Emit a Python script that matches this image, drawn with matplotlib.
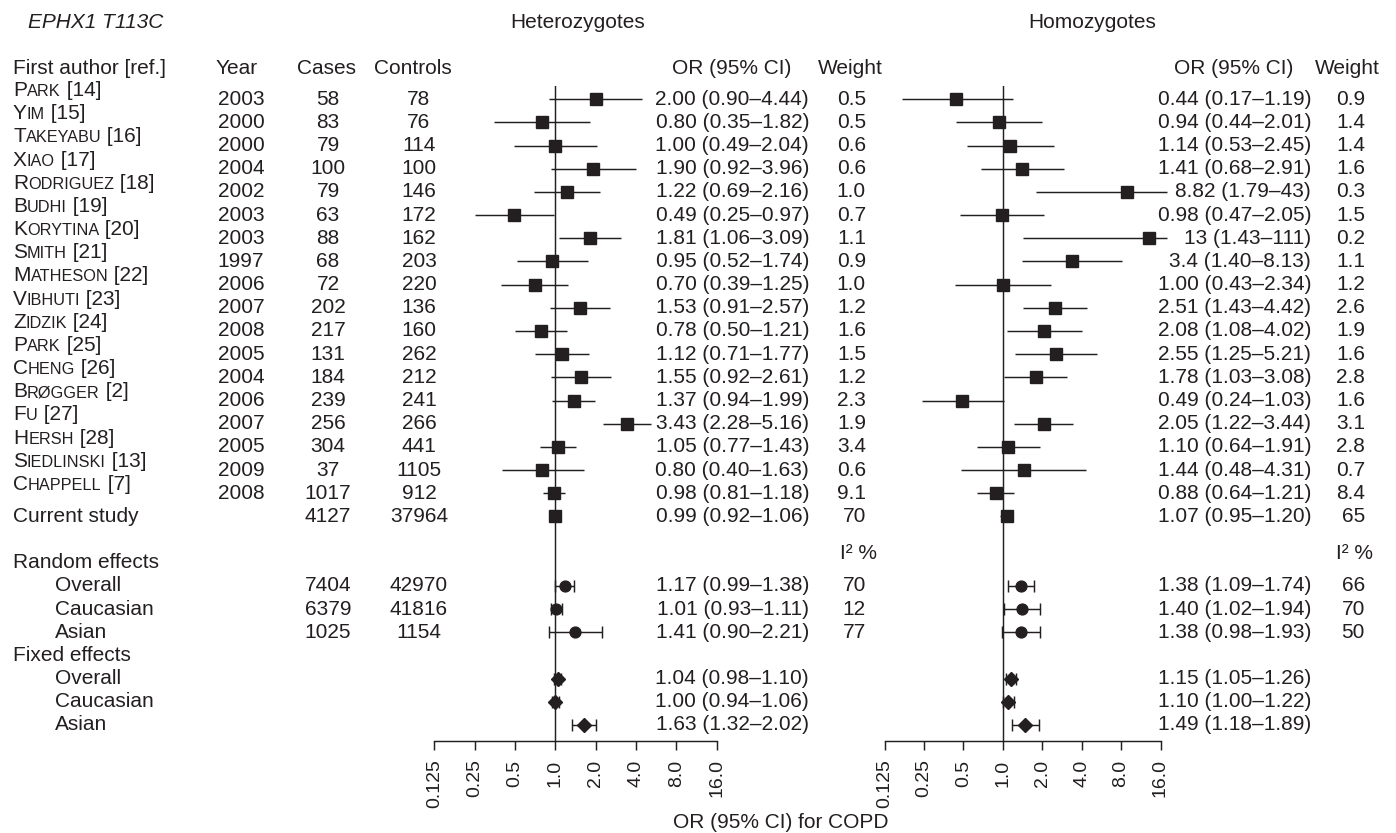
import numpy as np
import matplotlib
matplotlib.use("Agg")
import matplotlib.pyplot as plt
from matplotlib.transforms import blended_transform_factory
from matplotlib.offsetbox import TextArea, HPacker, AnnotationBbox

plt.rcParams['font.family'] = ['Liberation Sans', 'DejaVu Sans']
INK = '#231f20'
FS = 15
LW = 1.05

# ---------------- data ----------------
authors = ["Park", "Yim", "Takeyabu", "Xiao", "Rodriguez", "Budhi", "Korytina", "Smith",
           "Matheson", "Vibhuti", "Zidzik", "Park", "Cheng", "Brøgger", "Fu", "Hersh",
           "Siedlinski", "Chappell"]
refs = ["[14]", "[15]", "[16]", "[17]", "[18]", "[19]", "[20]", "[21]", "[22]", "[23]",
        "[24]", "[25]", "[26]", "[2]", "[27]", "[28]", "[13]", "[7]"]
years = [2003, 2000, 2000, 2004, 2002, 2003, 2003, 1997, 2006, 2007, 2008, 2005, 2004,
         2006, 2007, 2005, 2009, 2008]
cases = [58, 83, 79, 100, 79, 63, 88, 68, 72, 202, 217, 131, 184, 239, 256, 304, 37, 1017, 4127]
controls = [78, 76, 114, 100, 146, 172, 162, 203, 220, 136, 160, 262, 212, 241, 266, 441,
            1105, 912, 37964]

# Heterozygotes (studies + current study)
het_or = ["2.00", "0.80", "1.00", "1.90", "1.22", "0.49", "1.81", "0.95", "0.70", "1.53",
          "0.78", "1.12", "1.55", "1.37", "3.43", "1.05", "0.80", "0.98", "0.99"]
het_lo = ["0.90", "0.35", "0.49", "0.92", "0.69", "0.25", "1.06", "0.52", "0.39", "0.91",
          "0.50", "0.71", "0.92", "0.94", "2.28", "0.77", "0.40", "0.81", "0.92"]
het_hi = ["4.44", "1.82", "2.04", "3.96", "2.16", "0.97", "3.09", "1.74", "1.25", "2.57",
          "1.21", "1.77", "2.61", "1.99", "5.16", "1.43", "1.63", "1.18", "1.06"]
het_w = ["0.5", "0.5", "0.6", "0.6", "1.0", "0.7", "1.1", "0.9", "1.0", "1.2", "1.6", "1.5",
         "1.2", "2.3", "1.9", "3.4", "0.6", "9.1", "70"]

# Homozygotes
hom_or = ["0.44", "0.94", "1.14", "1.41", "8.82", "0.98", "13", "3.4", "1.00", "2.51",
          "2.08", "2.55", "1.78", "0.49", "2.05", "1.10", "1.44", "0.88", "1.07"]
hom_lo = ["0.17", "0.44", "0.53", "0.68", "1.79", "0.47", "1.43", "1.40", "0.43", "1.43",
          "1.08", "1.25", "1.03", "0.24", "1.22", "0.64", "0.48", "0.64", "0.95"]
hom_hi = ["1.19", "2.01", "2.45", "2.91", "43", "2.05", "111", "8.13", "2.34", "4.42",
          "4.02", "5.21", "3.08", "1.03", "3.44", "1.91", "4.31", "1.21", "1.20"]
hom_w = ["0.9", "1.4", "1.4", "1.6", "0.3", "1.5", "0.2", "1.1", "1.2", "2.6", "1.9", "1.6",
         "2.8", "1.6", "3.1", "2.8", "0.7", "8.4", "65"]

groups = ["Overall", "Caucasian", "Asian"]
grp_cases = [7404, 6379, 1025]
grp_controls = [42970, 41816, 1154]

het_re_or = ["1.17", "1.01", "1.41"]
het_re_lo = ["0.99", "0.93", "0.90"]
het_re_hi = ["1.38", "1.11", "2.21"]
het_re_i2 = ["70", "12", "77"]
hom_re_or = ["1.38", "1.40", "1.38"]
hom_re_lo = ["1.09", "1.02", "0.98"]
hom_re_hi = ["1.74", "1.94", "1.93"]
hom_re_i2 = ["66", "70", "50"]

het_fe_or = ["1.04", "1.00", "1.63"]
het_fe_lo = ["0.98", "0.94", "1.32"]
het_fe_hi = ["1.10", "1.06", "2.02"]
hom_fe_or = ["1.15", "1.10", "1.49"]
hom_fe_lo = ["1.05", "1.00", "1.18"]
hom_fe_hi = ["1.26", "1.22", "1.89"]

tick_vals = [0.125, 0.25, 0.5, 1.0, 2.0, 4.0, 8.0, 16.0]
tick_labels = ["0.125", "0.25", "0.5", "1.0", "2.0", "4.0", "8.0", "16.0"]

# ---------------- layout ----------------
W, H = 1396, 833
fig = plt.figure(figsize=(W / 100, H / 100), dpi=100)

row0_px, row_h = 99.3, 23.17
axis_px, top_px = 740.7, 86.0
y_bot = (axis_px - row0_px) / row_h
y_top = (top_px - row0_px) / row_h

n_st = len(authors)
rows_st = np.arange(n_st + 1)          # studies + current study
row_re_lab = n_st + 2
rows_re = row_re_lab + 1 + np.arange(3)
row_fe_lab = rows_re[-1] + 1
rows_fe = row_fe_lab + 1 + np.arange(3)
CAP = 17.8


def f(lst):
    return np.array([float(v) for v in lst])


def make_ax(x0px, x1px):
    ax = fig.add_axes([x0px / W, 1 - axis_px / H, (x1px - x0px) / W, (axis_px - top_px) / H])
    ax.set_xscale('log', base=2)
    ax.set_xlim(0.125, 16)
    ax.set_ylim(y_bot, y_top)
    ax.patch.set_alpha(0)
    for s in ['left', 'right', 'top']:
        ax.spines[s].set_visible(False)
    ax.spines['bottom'].set_bounds(0.125, 16)
    ax.spines['bottom'].set_linewidth(LW)
    ax.spines['bottom'].set_color(INK)
    ax.set_yticks([])
    ax.set_xticks(tick_vals)
    ax.set_xticklabels(tick_labels, rotation=90)
    ax.xaxis.set_minor_locator(matplotlib.ticker.NullLocator())
    ax.tick_params(axis='x', direction='out', length=6.5, width=LW, pad=7,
                   labelsize=14, colors=INK)
    ax.axvline(1.0, color=INK, lw=LW, zorder=1)
    return ax


def draw_panel(ax, o, lo, hi, re_o, re_lo, re_hi, fe_o, fe_lo, fe_hi):
    o, lo, hi = f(o), f(lo), f(hi)
    ax.hlines(rows_st, lo, np.minimum(hi, CAP), color=INK, lw=LW, clip_on=False, zorder=2)
    ax.plot(o, rows_st, 's', ms=8.3, color=INK, clip_on=False, zorder=3)
    ro, rl, rh = f(re_o), f(re_lo), f(re_hi)
    ax.errorbar(ro, rows_re, xerr=[ro - rl, rh - ro], fmt='o', ms=7.8, color=INK,
                ecolor=INK, elinewidth=LW, capsize=4.5, capthick=LW, clip_on=False, zorder=3)
    fo, fl, fh = f(fe_o), f(fe_lo), f(fe_hi)
    ax.errorbar(fo, rows_fe, xerr=[fo - fl, fh - fo], fmt='D', ms=7.6, color=INK,
                ecolor=INK, elinewidth=LW, capsize=4.5, capthick=LW, clip_on=False, zorder=3)


axL = make_ax(434.4, 716.8)
axR = make_ax(884.5, 1160.5)
draw_panel(axL, het_or, het_lo, het_hi, het_re_or, het_re_lo, het_re_hi,
           het_fe_or, het_fe_lo, het_fe_hi)
draw_panel(axR, hom_or, hom_lo, hom_hi, hom_re_or, hom_re_lo, hom_re_hi,
           hom_fe_or, hom_fe_lo, hom_fe_hi)

tr = blended_transform_factory(fig.transFigure, axL.transData)


def T(xpx, row, s, ha='left', size=FS, **kw):
    fig.text(xpx / W, row, s, transform=tr, ha=ha, va='center', size=size, color=INK, **kw)


def smallcaps(name, ref, xpx, row):
    parts = [TextArea(name[0], textprops=dict(size=FS, color=INK)),
             TextArea(name[1:].upper(), textprops=dict(size=FS * 0.78, color=INK)),
             TextArea(' ' + ref, textprops=dict(size=FS, color=INK))]
    box = HPacker(children=parts, align='baseline', pad=0, sep=0)
    ab = AnnotationBbox(box, (xpx / W, row), xycoords=tr, box_alignment=(0, 0.5),
                        frameon=False, pad=0, annotation_clip=False)
    fig.add_artist(ab)


# titles
fig.text(28 / W, 1 - 23 / H, "EPHX1 T113C", style='italic', ha='left', va='center',
         size=FS, color=INK)
fig.text(578 / W, 1 - 23 / H, "Heterozygotes", ha='center', va='center', size=FS, color=INK)
fig.text(1092 / W, 1 - 23 / H, "Homozygotes", ha='center', va='center', size=FS, color=INK)

# headers
hrow = -1.35
T(13, hrow, "First author [ref.]")
T(237, hrow, "Year", ha='center')
T(326, hrow, "Cases", ha='center')
T(413, hrow, "Controls", ha='center')
T(732, hrow, "OR (95% CI)", ha='center')
T(850, hrow, "Weight", ha='center')
T(1234, hrow, "OR (95% CI)", ha='center')
T(1347, hrow, "Weight", ha='center')

# study rows
for i in range(n_st):
    smallcaps(authors[i], refs[i], 13, rows_st[i] - 0.38)
    T(241, rows_st[i], str(years[i]), ha='center')
T(13, rows_st[-1], "Current study")
for i in range(n_st + 1):
    T(328, rows_st[i], str(cases[i]), ha='center')
    T(419, rows_st[i], str(controls[i]), ha='center')
    T(809, rows_st[i], f"{het_or[i]} ({het_lo[i]}\u2013{het_hi[i]})", ha='right')
    T(866, rows_st[i], het_w[i], ha='right')
    T(1311, rows_st[i], f"{hom_or[i]} ({hom_lo[i]}\u2013{hom_hi[i]})", ha='right')
    T(1365, rows_st[i], hom_w[i], ha='right')

# random effects
T(13, row_re_lab, "Random effects")
T(877, row_re_lab - 0.4, "I\u00b2 %", ha='right')
T(1373, row_re_lab - 0.4, "I\u00b2 %", ha='right')
for k in range(3):
    r = rows_re[k]
    T(55, r, groups[k])
    T(328, r, str(grp_cases[k]), ha='center')
    T(419, r, str(grp_controls[k]), ha='center')
    T(809, r, f"{het_re_or[k]} ({het_re_lo[k]}\u2013{het_re_hi[k]})", ha='right')
    T(866, r, het_re_i2[k], ha='right')
    T(1311, r, f"{hom_re_or[k]} ({hom_re_lo[k]}\u2013{hom_re_hi[k]})", ha='right')
    T(1365, r, hom_re_i2[k], ha='right')

# fixed effects
T(13, row_fe_lab, "Fixed effects")
for k in range(3):
    r = rows_fe[k]
    T(55, r, groups[k])
    T(809, r, f"{het_fe_or[k]} ({het_fe_lo[k]}\u2013{het_fe_hi[k]})", ha='right')
    T(1311, r, f"{hom_fe_or[k]} ({hom_fe_lo[k]}\u2013{hom_fe_hi[k]})", ha='right')

fig.text(781 / W, 1 - 823 / H, "OR (95% CI) for COPD", ha='center', va='center',
         size=FS, color=INK)

fig.savefig("out.png", dpi=100, facecolor='white')
